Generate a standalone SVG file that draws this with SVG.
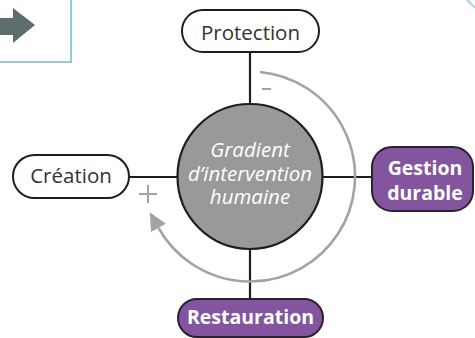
<svg xmlns="http://www.w3.org/2000/svg" width="475" height="338" viewBox="0 0 475 338">
  <style>
    .pill-light { fill: #ffffff; stroke: #1e1e1e; stroke-width: 2; }
    .pill-dark { fill: #84559f; stroke: #2a2230; stroke-width: 2; }
    .label { font-family: "Open Sans", "Noto Sans", sans-serif; font-size: 20.5px; fill: #333333; text-anchor: middle; }
    .label-bold { font-family: "Open Sans", "Noto Sans", sans-serif; font-size: 19.5px; font-weight: bold; fill: #ffffff; text-anchor: middle; }
    .hub-text { font-family: "Open Sans", "Noto Sans", sans-serif; font-size: 20.5px; font-style: italic; fill: #ffffff; text-anchor: middle; }
    .link { stroke: #1e1e1e; stroke-width: 2.2; fill: none; }
    .cycle { stroke: #a3a3a3; stroke-width: 2.6; fill: none; }
    .sign { stroke: #a3a3a3; stroke-width: 2; fill: none; }
  </style>
  <defs>
    <marker id="cycle-head" markerUnits="userSpaceOnUse" markerWidth="20" markerHeight="18" refX="0" refY="8.5" orient="auto">
      <polygon points="0,0 18,8.5 0,17" fill="#a3a3a3"/>
    </marker>
  </defs>

  <rect width="475" height="338" fill="#ffffff"/>

  <!-- navigation panel in the corner -->
  <g id="nav-panel">
    <rect x="-10" y="-10" width="81" height="72" fill="#ffffff" stroke="#96cdd4" stroke-width="2"/>
    <polygon points="0,18 13,18 13,8 35,25 13,43 13,35 0,35" fill="#5b6e6c"/>
  </g>
  <line x1="467" y1="0" x2="475" y2="7.5" stroke="#a3d3de" stroke-width="2"/>

  <!-- connectors -->
  <g id="connectors">
    <line class="link" x1="250" y1="52" x2="250" y2="104"/>
    <line class="link" x1="250" y1="249" x2="250" y2="299"/>
    <line class="link" x1="129" y1="177" x2="178" y2="177"/>
    <line class="link" x1="322" y1="177" x2="372" y2="177"/>
    <path class="cycle" d="M 260.06 72 A 105 105 0 1 1 158.5 228" marker-end="url(#cycle-head)"/>
    <line class="sign" x1="262" y1="89" x2="271" y2="89"/>
    <line class="sign" x1="139" y1="194" x2="157" y2="194"/>
    <line class="sign" x1="148" y1="185" x2="148" y2="203"/>
  </g>

  <g id="hub">
    <circle cx="250" cy="176.5" r="72.5" fill="#999999" stroke="#1e1e1e" stroke-width="2.2"/>
    <text class="hub-text" x="250" y="157">Gradient</text>
    <text class="hub-text" x="250" y="180.5">d’intervention</text>
    <text class="hub-text" x="250" y="203.5">humaine</text>
  </g>

  <g id="protection">
    <rect class="pill-light" x="182" y="10" width="137" height="42" rx="21"/>
    <text class="label" x="250.5" y="40">Protection</text>
  </g>

  <g id="creation">
    <rect class="pill-light" x="13" y="155" width="116" height="43" rx="21.5"/>
    <text class="label" x="71" y="183">Création</text>
  </g>

  <g id="gestion-durable">
    <rect class="pill-dark" x="372" y="147" width="101" height="64" rx="20"/>
    <text class="label-bold" x="425" y="175">Gestion</text>
    <text class="label-bold" x="425" y="200">durable</text>
  </g>

  <g id="restauration">
    <rect class="pill-dark" x="178" y="299" width="145" height="38" rx="19"/>
    <text class="label-bold" x="250.5" y="324">Restauration</text>
  </g>
</svg>
